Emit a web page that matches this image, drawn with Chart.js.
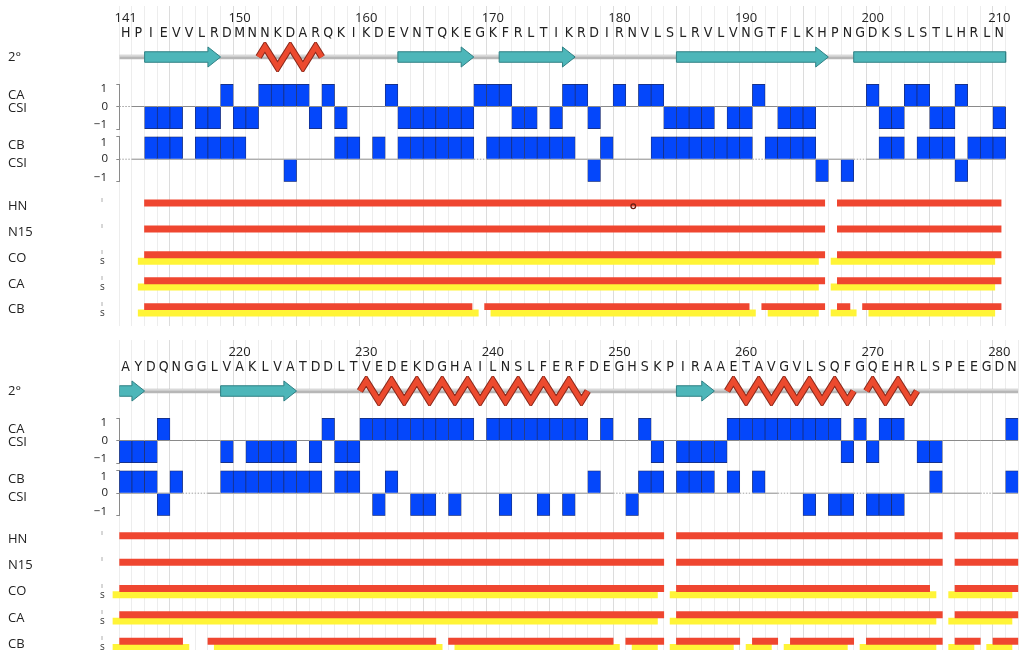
<!DOCTYPE html>
<html>
<head>
<meta charset="utf-8">
<title>CSI and assignment map, residues 141-281</title>
<script src="https://cdn.jsdelivr.net/npm/chart.js@4.4.1/dist/chart.umd.min.js"></script>
<style>
  html, body { margin: 0; padding: 0; background: #fff; }
  #figure { position: relative; width: 1019px; height: 650px; overflow: hidden; }
  #figure canvas { position: absolute; left: 0; }
</style>
</head>
<body>
<div id="figure"></div>
<script>
// sequence 141-281, drawn as two panels
const firstResidue = 141;
const sequence = 'HPIEVVLRDMNNKDARQKIKDEVNTQKEGKFRLTIKRDIRNVLSLRVLVNGTFLKHPNGDKSLSTLHRLN' +
                 'AYDQNGGLVAKLVATDDLTVEDEKDGHAILNSLFERFDEGHSKPIRAAETAVGVLSQFGQEHRLSPEEGDN';
const panelRanges = [[141, 210], [211, 281]];
const numberTicks = [[141, 150, 160, 170, 180, 190, 200, 210], [220, 230, 240, 250, 260, 270, 280]];
const csiTicks = [-1, 0, 1];

// secondary structure, residue ranges
const strands = [[143, 148], [163, 168], [171, 176], [185, 196], [199, 212], [219, 224], [255, 257]];
const helices = [[152, 156], [230, 247], [259, 268], [270, 273]];

// chemical shift index per residue 141..281 (null = no data)
const caCSI = [
  null, 0, -1, -1, -1, 0, -1, -1, 1, -1,
  -1, 1, 1, 1, 1, -1, 1, -1, 0, 0,
  0, 1, -1, -1, -1, -1, -1, -1, 1, 1,
  1, -1, -1, 0, -1, 1, 1, -1, 0, 1,
  0, 1, 1, -1, -1, -1, -1, 0, -1, -1,
  1, 0, -1, -1, -1, 0, 0, 0, 0, 1,
  -1, -1, 1, 1, -1, -1, 1, 0, 0, -1,
  -1, -1, -1, 1, 0, 0, 0, 0, -1, 0,
  -1, -1, -1, -1, 0, -1, 1, -1, -1, 1,
  1, 1, 1, 1, 1, 1, 1, 1, 0, 1,
  1, 1, 1, 1, 1, 1, 1, 0, 1, 0,
  0, 1, -1, 0, -1, -1, -1, -1, 1, 1,
  1, 1, 1, 1, 1, 1, 1, -1, 1, -1,
  1, 1, 0, -1, -1, 0, 0, 0, 0, 0, 1
];
const cbCSI = [
  null, 0, 1, 1, 1, 0, 1, 1, 1, 1,
  0, 0, 0, -1, 0, 0, 0, 1, 1, 0,
  1, 0, 1, 1, 1, 1, 1, 1, null, 1,
  1, 1, 1, 1, 1, 1, 0, -1, 1, 0,
  0, 0, 1, 1, 1, 1, 1, 1, 1, 1,
  null, 1, 1, 1, 1, -1, 0, -1, null, 0,
  1, 1, 0, 1, 1, 1, -1, 1, 1, 1,
  1, 1, 1, -1, 1, null, null, 0, 1, 1,
  1, 1, 1, 1, 1, 1, 0, 1, 1, 0,
  -1, 1, 0, -1, -1, null, -1, 0, 0, 0,
  -1, 0, 0, -1, 0, -1, 0, 1, 0, null,
  -1, 1, 1, 0, 1, 1, 1, 0, 1, null,
  1, 0, null, 0, -1, 0, -1, -1, null, -1,
  -1, -1, 0, 0, 1, 0, 0, 0, null, 0, 1
];

// assigned residue ranges (red) and sequential links (yellow, "s")
const rowNames = ['HN', 'N15', 'CO', 'CA', 'CB'];
const hnAssigned = [[143, 196], [198, 253], [255, 275], [277, 281]];
const n15Assigned = [[143, 196], [198, 253], [255, 275], [277, 281]];
const coAssigned = [[143, 196], [198, 253], [255, 274], [277, 281]];
const caAssigned = [[143, 196], [198, 253], [255, 275], [277, 281]];
const cbAssigned = [[143, 168], [170, 190], [192, 196], [198, 198], [200, 215], [218, 235], [237, 249],
                    [251, 253], [255, 259], [261, 262], [264, 268], [270, 275], [277, 278], [280, 281]];
const coLinked = [[143, 196], [198, 253], [255, 275], [277, 281]];
const caLinked = [[143, 196], [198, 253], [255, 275], [277, 281]];
const cbLinked = [[143, 169], [171, 191], [193, 196], [198, 199], [201, 216], [219, 236], [238, 250],
                  [252, 253], [255, 259], [261, 262], [264, 268], [270, 275], [277, 278], [280, 281]];
const hnMarks = [181.3];

const W = 1019;
const PLOT_LEFT = 119.3;
const PLOT_RIGHT_PAD = 0.7;
const COLUMNS = 71;
const PANEL_TOP = [0, 334];

const RED = '#ef4630';
const YELLOW = '#fff437';
const BLUE = '#0447fb';
const TEAL = '#4db6b9';
const labelFont = "13px 'Open Sans', 'DejaVu Sans', sans-serif";
const tickFont = "11.5px 'Open Sans', 'DejaVu Sans', sans-serif";
const seqFont = { family: "'Liberation Sans Narrow', 'DejaVu Sans Condensed', 'Open Sans', sans-serif", size: 14 };

Chart.defaults.font.family = "'Open Sans', 'DejaVu Sans', sans-serif";
Chart.defaults.font.size = 13;
Chart.defaults.color = '#222';
Chart.defaults.animation = false;
Chart.defaults.responsive = false;
Chart.defaults.devicePixelRatio = 1;
Chart.defaults.events = [];
Chart.defaults.plugins.legend.display = false;
Chart.defaults.plugins.tooltip.enabled = false;

// row captions and side labels, placed on a scale value
const rowText = {
  id: 'rowText',
  afterDraw(chart, args, opts) {
    const ctx = chart.ctx;
    (opts.items || []).forEach(it => {
      const y = chart.scales[it.axis || 'y'].getPixelForValue(it.value);
      ctx.save();
      ctx.font = it.font || labelFont;
      ctx.fillStyle = it.color || '#222';
      ctx.textAlign = it.align || 'left';
      ctx.textBaseline = 'middle';
      ctx.fillText(it.text, it.x, y);
      ctx.restore();
    });
  }
};

const figure = document.getElementById('figure');

function addChart(panel, top, height, config) {
  const canvas = document.createElement('canvas');
  canvas.width = W;
  canvas.height = height;
  canvas.style.top = (PANEL_TOP[panel] + top) + 'px';
  canvas.style.width = W + 'px';
  canvas.style.height = height + 'px';
  figure.appendChild(canvas);
  return new Chart(canvas, config);
}

function xBounds(p) {
  const first = panelRanges[p][0];
  return { min: first - 0.5, max: first - 0.5 + COLUMNS };
}

function columnEdges(p) {
  const [first, last] = panelRanges[p];
  const out = [];
  for (let r = first; r <= last + 1; r++) out.push({ value: r - 0.5 });
  return out;
}

function lineSet(data, color, width, order) {
  return {
    type: 'line', data, borderColor: color, borderWidth: width, pointRadius: 0,
    tension: 0, fill: false, order, borderJoinStyle: 'miter'
  };
}

// light vertical column grid behind everything
function gridChart(p) {
  addChart(p, 6, 320, {
    type: 'line',
    data: { datasets: [] },
    options: {
      layout: { padding: { left: PLOT_LEFT, right: PLOT_RIGHT_PAD, top: 0, bottom: 0 } },
      scales: {
        x: {
          type: 'linear', ...xBounds(p),
          afterBuildTicks: a => { a.ticks = columnEdges(p); },
          ticks: { display: false },
          border: { display: false },
          grid: {
            drawTicks: false,
            color: c => ((c.tick.value + 0.5) % 5 === 0 ? '#dcdcdc' : '#ededed')
          }
        },
        y: { display: false }
      }
    }
  });
}

// numbers, one-letter sequence and the 2° structure row
function headerChart(p) {
  const [first, last] = panelRanges[p];
  const lo = first - 0.5, hi = last + 0.5;
  const BODY = 0.35, HEAD = 0.67, AMP = 0.68;
  const datasets = [];

  datasets.push(lineSet([{ x: lo, y: 0 }, { x: hi, y: 0 }], '#b7b7b7', 4.5, 6));
  datasets.push(lineSet([{ x: lo, y: 0.07 }, { x: hi, y: 0.07 }], '#e4e4e4', 1.2, 5));

  strands.forEach(([a, b]) => {
    if (b < first || a > last) return;
    const s = Math.max(a - 0.5, lo);
    let pts;
    if (b <= last) {
      const e = b + 0.5, h = Math.max(b - 0.5, s);
      pts = [{ x: s, y: BODY }, { x: h, y: BODY }, { x: h, y: HEAD }, { x: e, y: 0 },
             { x: h, y: -HEAD }, { x: h, y: -BODY }, { x: s, y: -BODY }, { x: s, y: BODY }];
    } else {
      pts = [{ x: s, y: BODY }, { x: hi, y: BODY }, { x: hi, y: -BODY }, { x: s, y: -BODY }, { x: s, y: BODY }];
    }
    datasets.push({
      type: 'line', data: pts, borderColor: '#2f8084', borderWidth: 1, backgroundColor: TEAL,
      fill: 'shape', pointRadius: 0, tension: 0, order: 3, borderJoinStyle: 'miter'
    });
  });

  helices.forEach(([a, b]) => {
    if (b < first || a > last) return;
    const pts = [{ x: a - 0.5, y: 0 }];
    for (let r = a; r <= b; r++) pts.push({ x: r, y: (r - a) % 2 === 0 ? AMP : -AMP });
    pts.push({ x: b + 0.5, y: 0 });
    datasets.push(lineSet(pts, '#8a2a1c', 7, 2));
    datasets.push(lineSet(pts, '#ec4a2e', 5, 1));
  });

  const residues = [];
  for (let r = first; r <= last; r++) residues.push({ value: r });

  addChart(p, 0, 76, {
    type: 'line',
    data: { datasets },
    options: {
      layout: { padding: { left: PLOT_LEFT, right: PLOT_RIGHT_PAD, top: 7.8, bottom: 4 } },
      scales: {
        x: {
          type: 'linear', position: 'top', weight: 1, offset: false, ...xBounds(p),
          afterBuildTicks: a => { a.ticks = residues.slice(); },
          afterFit: a => { a.height = 16.2; },
          grid: { display: false, drawTicks: false },
          border: { display: false },
          ticks: {
            autoSkip: false, maxRotation: 0, minRotation: 0, padding: 0.6,
            font: seqFont, color: '#222',
            callback: v => sequence[v - firstResidue]
          }
        },
        xNum: {
          type: 'linear', axis: 'x', position: 'top', weight: 2, offset: false, ...xBounds(p),
          afterBuildTicks: a => { a.ticks = numberTicks[p].map(v => ({ value: v })); },
          afterFit: a => { a.height = 18; },
          grid: { display: false, drawTicks: false },
          border: { display: false },
          ticks: { autoSkip: false, maxRotation: 0, minRotation: 0, padding: 0, color: '#222', callback: v => String(v) }
        },
        y: { display: false, min: -1, max: 1 }
      },
      plugins: { rowText: { items: [{ text: '2°', value: 0, x: 8 }] } }
    },
    plugins: [rowText]
  });
}

// CA / CB chemical shift index bars
function csiChart(p, top, height, padTop, padBottom, values, captions) {
  const [first, last] = panelRanges[p];
  const vals = values.slice(first - firstResidue, last - firstResidue + 1);
  const bars = vals.map((v, i) => ({ x: first + i, y: v }));
  const zero = vals.map((v, i) => ({ x: first + i - 0.5, y: 0 })).concat([{ x: last + 0.5, y: 0 }]);

  addChart(p, top, height, {
    type: 'bar',
    data: {
      datasets: [
        {
          type: 'bar', data: bars, backgroundColor: BLUE, borderColor: '#1b2b6a',
          borderWidth: { top: 1, bottom: 1, left: 0.7, right: 0.7 },
          barPercentage: 1, categoryPercentage: 1, order: 0
        },
        {
          type: 'line', data: zero, borderColor: '#8a8a8a', borderWidth: 1, pointRadius: 0, order: 1,
          segment: {
            borderDash: c => (vals[c.p0DataIndex] === null ? [1.5, 1.5] : undefined),
            borderColor: c => (vals[c.p0DataIndex] === null ? '#a0a0a0' : undefined)
          }
        }
      ]
    },
    options: {
      layout: { padding: { left: 0, right: PLOT_RIGHT_PAD, top: padTop, bottom: padBottom } },
      scales: {
        x: {
          type: 'linear', offset: false, display: false, ...xBounds(p),
          afterBuildTicks: a => { a.ticks = columnEdges(p); }
        },
        y: {
          min: -1, max: 1,
          afterBuildTicks: a => { a.ticks = csiTicks.map(v => ({ value: v })); },
          afterFit: a => { a.width = PLOT_LEFT; a.paddingTop = 0; a.paddingBottom = 0; },
          grid: { drawOnChartArea: false, drawTicks: true, tickLength: 3, color: '#8a8a8a' },
          border: { display: true, color: '#8a8a8a' },
          ticks: { display: false }
        }
      },
      plugins: { rowText: { items: captions } }
    },
    plugins: [rowText]
  });
}

// tick captions sit just inside the bracket ends
function csiCaptions(name, nameValue, csiValue, topLabelValue) {
  return [
    { text: name, value: nameValue, x: 8 },
    { text: 'CSI', value: csiValue, x: 8 },
    { text: String(csiTicks[2]), value: topLabelValue, x: 107, align: 'right', font: tickFont },
    { text: String(csiTicks[1]), value: 0, x: 108, align: 'right', font: tickFont },
    { text: '\u2212' + Math.abs(csiTicks[0]), value: -0.8, x: 107, align: 'right', font: tickFont }
  ];
}

// assignment rows: red = assigned, yellow = sequential connectivity
function assignChart(p) {
  const [first, last] = panelRanges[p];
  const rows = [
    ['HN', hnAssigned, null], ['N15', n15Assigned, null], ['CO', coAssigned, coLinked],
    ['CA', caAssigned, caLinked], ['CB', cbAssigned, cbLinked]
  ];
  const red = [], yellow = [];
  rows.forEach(([name, ranges, linked]) => {
    ranges.forEach(([a, b]) => {
      const s = Math.max(a - 0.5, first - 0.5), e = Math.min(b + 0.5, last + 0.5);
      if (s < e) red.push({ y: name, x: [s, e] });
    });
    (linked || []).forEach(([a, b]) => {
      const s = Math.max(a - 1, first - 1), e = Math.min(b, last);
      if (s < e) yellow.push({ y: name, x: [s, e] });
    });
  });
  const marks = hnMarks.filter(x => x > first - 0.5 && x < last + 0.5).map(x => ({ x, y: 'HN' }));

  const items = [];
  rowNames.forEach((n, i) => {
    items.push({ text: '\u0131', value: i - 0.24, x: 101, font: "8px 'Open Sans', sans-serif", color: '#8a8a8a' });
    if (i >= 2) items.push({ text: 's', value: i + 0.12, x: 100, font: "10px 'Open Sans', sans-serif", color: '#333' });
  });

  addChart(p, 188, 140, {
    type: 'bar',
    data: {
      datasets: [
        { type: 'bar', data: red, backgroundColor: RED, barThickness: 6.3, order: 0 },
        { type: 'bar', data: yellow, backgroundColor: YELLOW, barThickness: 6.3, order: 1, clip: false },
        {
          type: 'scatter', data: marks, pointStyle: 'circle', pointRadius: 2.3, borderWidth: 1.3,
          borderColor: '#6b1d12', backgroundColor: 'rgba(0,0,0,0)', order: -1
        }
      ]
    },
    options: {
      indexAxis: 'y',
      layout: { padding: { left: 8, right: PLOT_RIGHT_PAD, top: 3.8, bottom: 4.5 } },
      scales: {
        x: {
          type: 'linear', offset: false, display: false, beginAtZero: false, ...xBounds(p),
          afterBuildTicks: a => { a.ticks = columnEdges(p); }
        },
        y: {
          type: 'category', labels: rowNames, offset: true,
          afterFit: a => { a.width = PLOT_LEFT - 8; a.paddingTop = 0; a.paddingBottom = 0; },
          grid: { display: false, drawTicks: false },
          border: { display: false },
          ticks: { crossAlign: 'far', padding: 0, color: '#222' }
        }
      },
      plugins: { rowText: { items } }
    },
    plugins: [rowText]
  });
}

[0, 1].forEach(p => {
  gridChart(p);
  headerChart(p);
  csiChart(p, 74, 66, 10, 11, caCSI, csiCaptions('CA', 0.5, -0.07, 0.8));
  csiChart(p, 126, 66, 10.6, 10.2, cbCSI, csiCaptions('CB', 0.6, -0.2, 0.72));
  assignChart(p);
});
</script>
</body>
</html>
